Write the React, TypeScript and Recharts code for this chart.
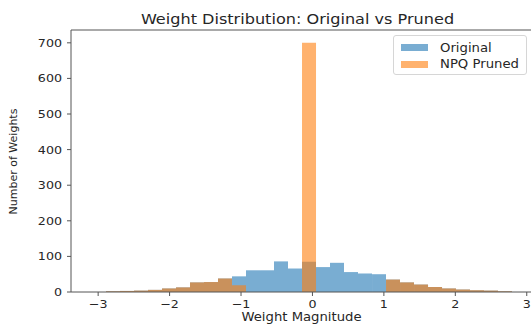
import { ComposedChart, Bar, XAxis, YAxis, Label } from 'recharts'

// histogram bins (centers), width ~0.196
const binCenters = [
  -2.792, -2.596, -2.4, -2.204, -2.008, -1.812, -1.616, -1.42, -1.224, -1.028,
  -0.832, -0.636, -0.44, -0.244, -0.048, 0.148, 0.344, 0.54, 0.736, 0.932,
  1.128, 1.324, 1.52, 1.716, 1.912, 2.108, 2.304, 2.5, 2.696,
]
const originalCounts = [
  2, 3, 4, 6, 10, 13, 27, 28, 38, 44,
  61, 61, 86, 66, 85, 70, 82, 56, 52, 50,
  35, 27, 21, 14, 10, 7, 5, 4, 2,
]
const prunedCounts = [
  2, 3, 4, 6, 10, 13, 27, 28, 38, 19,
  0, 0, 0, 0, 700, 0, 0, 0, 0, 0,
  35, 27, 21, 14, 10, 7, 5, 4, 2,
]
const xTicks = [-3, -2, -1, 0, 1, 2, 3]
const yTicks = [0, 100, 200, 300, 400, 500, 600, 700]

const data = binCenters.map((x, i) => ({
  x,
  original: originalCounts[i],
  pruned: prunedCounts[i],
}))

const FONT = '"DejaVu Sans", sans-serif'
const TEXT = '#262626'
const AXIS = '#555'
const STRETCH = 1.15 // picture is a bit wider than tall

function fmt(v: number) {
  return v < 0 ? `\u2212${-v}` : `${v}`
}

function XTick({ x, y, payload }: any) {
  return (
    <g transform={`translate(${x},${y})`}>
      <text transform={`scale(${STRETCH},1)`} textAnchor="middle" dy="0.71em" fontSize={11} fill={TEXT} fontFamily={FONT}>
        {fmt(payload.value)}
      </text>
    </g>
  )
}

function YTick({ x, y, payload }: any) {
  return (
    <g transform={`translate(${x},${y})`}>
      <text transform={`scale(${STRETCH},1)`} textAnchor="end" dy="0.355em" fontSize={11} fill={TEXT} fontFamily={FONT}>
        {payload.value}
      </text>
    </g>
  )
}

function Title() {
  return (
    <g transform="translate(297.5,23.5)">
      <text transform={`scale(${STRETCH},1)`} textAnchor="middle" fontSize={14} fill={TEXT} fontFamily={FONT}>
        Weight Distribution: Original vs Pruned
      </text>
    </g>
  )
}

function XTitle() {
  return (
    <g transform="translate(301.5,321)">
      <text transform={`scale(${STRETCH},1)`} textAnchor="middle" fontSize={11.5} fill={TEXT} fontFamily={FONT}>
        Weight Magnitude
      </text>
    </g>
  )
}

function YTitle() {
  return (
    <text
      x={13.5}
      y={161.5}
      transform="rotate(-90 13.5 161.5)"
      textAnchor="middle"
      dy="0.35em"
      fontSize={11}
      fill={TEXT}
      fontFamily={FONT}
    >
      Number of Weights
    </text>
  )
}

function LegendBox() {
  const row = (color: string, label: string, top: number) => (
    <div style={{ position: 'absolute', left: 7, top, height: 16, display: 'flex', alignItems: 'center' }}>
      <span style={{ display: 'inline-block', width: 27, height: 7, background: color }} />
      <span
        style={{
          marginLeft: 12,
          fontSize: 11.5,
          color: TEXT,
          transform: `scaleX(${STRETCH})`,
          transformOrigin: 'left center',
          whiteSpace: 'nowrap',
        }}
      >
        {label}
      </span>
    </div>
  )
  return (
    <div
      style={{
        position: 'absolute',
        left: 393,
        top: 35,
        width: 132,
        height: 38,
        border: '1px solid #d6d6d6',
        borderRadius: 3,
        background: 'rgba(255,255,255,0.8)',
        fontFamily: FONT,
      }}
    >
      {row('#79add2', 'Original', 3.5)}
      {row('#ffb26e', 'NPQ Pruned', 20)}
    </div>
  )
}

export default function App() {
  return (
    <div style={{ position: 'absolute', left: 0, top: 0, width: 531, height: 331, overflow: 'hidden', background: '#fff' }}>
      <ComposedChart
        width={540}
        height={331}
        data={data}
        margin={{ top: 29, right: 6.1, bottom: 0, left: 0 }}
        barCategoryGap={0}
        barGap={0}
      >
        <XAxis
          xAxisId="bottom"
          dataKey="x"
          type="number"
          domain={[-3.38, 3.1]}
          ticks={xTicks}
          interval={0}
          allowDataOverflow
          tick={<XTick />}
          tickSize={4}
          tickMargin={4}
          height={39}
          stroke={AXIS}
        >
          <Label content={<XTitle />} />
        </XAxis>
        <XAxis
          xAxisId="top"
          orientation="top"
          dataKey="x"
          type="number"
          domain={[-3.38, 3.1]}
          ticks={xTicks}
          allowDataOverflow
          tick={false}
          tickLine={false}
          height={1}
          stroke={AXIS}
        >
          <Label content={<Title />} />
        </XAxis>
        <YAxis
          type="number"
          domain={[0, 736]}
          ticks={yTicks}
          interval={0}
          allowDataOverflow
          width={71}
          tick={<YTick />}
          tickSize={4}
          tickMargin={5}
          stroke={AXIS}
        >
          <Label content={<YTitle />} />
        </YAxis>
        <Bar xAxisId="bottom" dataKey="original" fill="#1f77b4" fillOpacity={0.6} isAnimationActive={false} />
        <Bar xAxisId="top" dataKey="pruned" fill="#ff7f0e" fillOpacity={0.6} isAnimationActive={false} />
      </ComposedChart>
      <LegendBox />
    </div>
  )
}
